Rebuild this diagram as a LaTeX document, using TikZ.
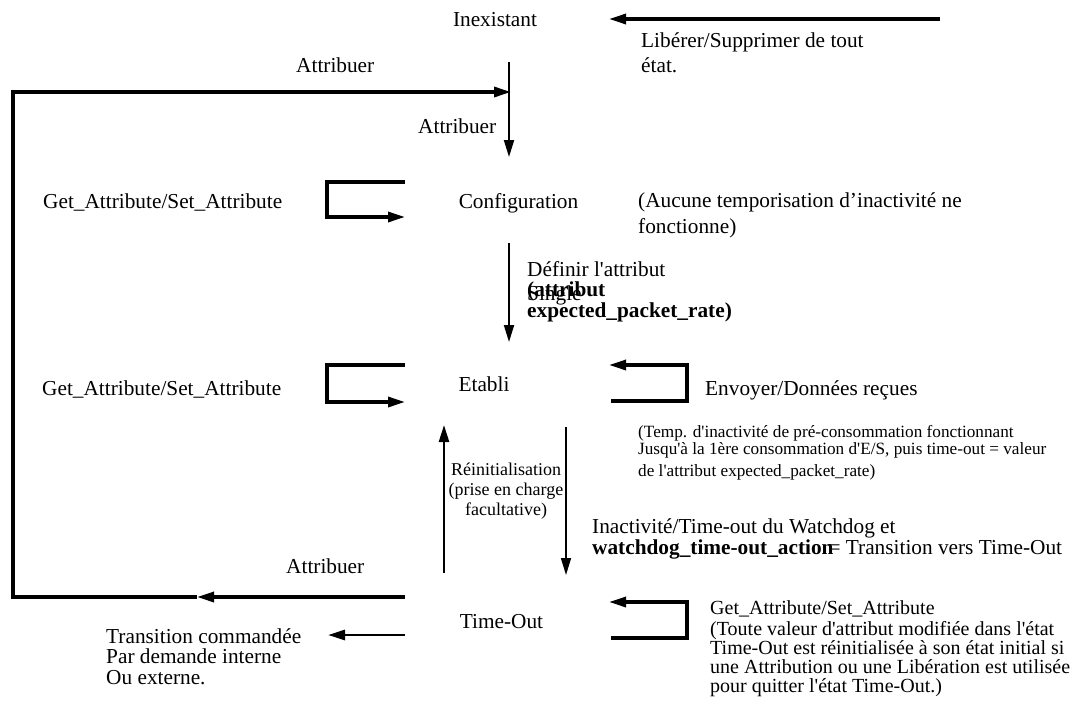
\documentclass[tikz,border=0pt]{standalone}
\usepackage{fontspec}
\setmainfont{Liberation Serif}[Ligatures=TeXOff]
\usetikzlibrary{arrows.meta}
\newcommand{\mainfs}{\fontsize{21.3}{24.5}\selectfont}
\newcommand{\notefs}{\fontsize{17.2}{15.5}\selectfont}
\newcommand{\reinfs}{\fontsize{18}{20}\selectfont}
\newcommand{\tofs}{\fontsize{20}{19}\selectfont}

\begin{document}
\begin{tikzpicture}[x=1pt,y=-1pt,
  every node/.style={inner sep=0pt},
  etat/.style={font=\mainfs,anchor=base},
  txt/.style={font=\mainfs,anchor=base west,align=left},
  tip/.style={-{Triangle[length=17pt,width=10pt]}},
  boucle/.style={line width=3.2pt,tip},
  fleche/.style={line width=2pt,tip}]
\useasboundingbox (0,0) rectangle (1081,704);

\node[etat] (inex) at (495,26) {Inexistant};
\node[etat] (conf) at (518.5,208) {Configuration};
\node[etat] (etab) at (484,391) {Etabli};
\node[etat] (tout) at (501.5,628) {Time-Out};

\node[txt] (lib) at (641,72) {Libérer/Supprimer de tout\\état.};
\node[txt] (att1) at (296,72) {Attribuer};
\node[txt] (att2) at (418,133) {Attribuer};
\node[txt] (gsc) at (43,208) {Get\_Attribute/Set\_Attribute};
\node[txt,font=\fontsize{21.3}{26}\selectfont] (aucune) at (638,233) {(Aucune temporisation d’inactivité ne\\fonctionne)};
\node[txt,font=\fontsize{21.3}{20.5}\selectfont] (defin) at (527,317)
  {Définir l'attribut\\\rlap{\raisebox{-4pt}[0pt][0pt]{Single}}\textbf{(attribut}\\\textbf{expected\_packet\_rate)}};
\node[txt] (gse) at (42,395) {Get\_Attribute/Set\_Attribute};
\node[txt] (envoi) at (705,395) {Envoyer/Données reçues};
\node[txt,font=\notefs] (temp) at (638,476)
  {(Temp. d'inactivité de pré-consommation fonctionnant\\Jusqu'à la 1ère consommation d'E/S, puis time-out = valeur\\[5pt]de l'attribut expected\_packet\_rate)};
\node[font=\reinfs,align=center,anchor=base] (rein) at (506,515) {Réinitialisation\\(prise en charge\\facultative)};
\node[txt,font=\fontsize{21.3}{21}\selectfont] (inact) at (592,554)
  {Inactivité/Time-out du Watchdog et\\\textbf{watchdog\_time-out\_action}\kern-5pt= Transition vers Time-Out};
\node[txt] (att3) at (286,573) {Attribuer};
\node[txt,font=\fontsize{21.3}{20.5}\selectfont] (trans) at (106,684) {Transition commandée\\Par demande interne\\Ou externe.};
\node[txt,font=\tofs] (gst) at (710,692)
  {Get\_Attribute/Set\_Attribute\\[2pt](Toute valeur d'attribut modifiée dans l'état\\Time-Out est réinitialisée à son état initial si\\une Attribution ou une Libération est utilisée\\pour quitter l'état Time-Out.)};

\coordinate (lib0) at (940,19);
\coordinate (lib1) at (609,19);
\coordinate (inex0) at (509,62);
\coordinate (inex1) at (509,157);
\coordinate (haut0) at (13,92);
\coordinate (haut1) at (511,92);
\coordinate (bas0) at (405,597);
\coordinate (bas1) at (197,597);
\coordinate (bas2) at (13,597);
\coordinate (conf0) at (509,243);
\coordinate (conf1) at (509,342);
\coordinate (rein0) at (444,573);
\coordinate (rein1) at (444,425);
\coordinate (inact0) at (566,427);
\coordinate (inact1) at (566,575);
\coordinate (trans0) at (405,635);
\coordinate (trans1) at (328,635);

\draw[boucle] (lib0) -- (lib1);
\draw[fleche] (inex0) -- (inex1);
\draw[boucle] (bas0) -- (bas1);
\draw[boucle] (bas1) -- (bas2) -- (haut0) -- (haut1);
\draw[boucle] (405,182) -- (327,182) -- (327,217) -- (405,217);
\draw[fleche] (conf0) -- (conf1);
\draw[boucle] (405,365) -- (327,365) -- (327,402) -- (405,402);
\draw[boucle] (611,401) -- (687,401) -- (687,365) -- (609,365);
\draw[line width=2.5pt,tip] (rein0) -- (rein1);
\draw[line width=1.6pt,tip] (inact0) -- (inact1);
\draw[boucle] (611,638) -- (687,638) -- (687,602) -- (609,602);
\draw[line width=2.8pt,tip] (trans0) -- (trans1);
\end{tikzpicture}
\end{document}
